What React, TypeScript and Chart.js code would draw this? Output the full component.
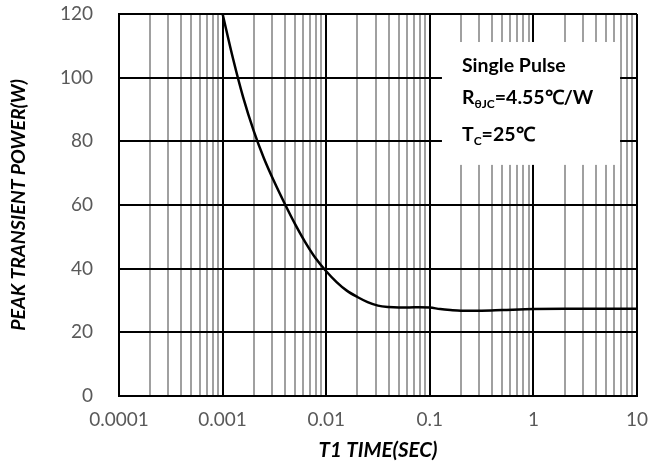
import React, { useEffect, useRef } from "react";
import { Chart, registerables } from "chart.js";

Chart.register(...registerables);

// ---- data ----
const TIME_S = [0.001, 0.00126, 0.00158, 0.002, 0.00251, 0.00316, 0.00398, 0.00501, 0.00631, 0.00794, 0.01, 0.0126, 0.0158, 0.02, 0.0251, 0.0316, 0.0398, 0.0501, 0.0631, 0.0794, 0.1, 0.126, 0.158, 0.2, 0.316, 0.501, 1, 2, 5, 10];
const POWER_W = [120, 106, 93.8, 83.2, 74.6, 67.2, 60.4, 54, 48.2, 43.2, 39.2, 35.8, 33.1, 31.1, 29.5, 28.4, 27.95, 27.8, 27.8, 27.9, 27.8, 27.3, 27, 26.8, 26.8, 27, 27.3, 27.4, 27.4, 27.4];
const X_DECADES = [0.0001, 0.001, 0.01, 0.1, 1, 10];
const X_TICK_LABELS = ["0.0001", "0.001", "0.01", "0.1", "1", "10"];
const X_MINOR_MULTIPLIERS = [2, 3, 4, 5, 6, 7, 8, 9];
const Y_MIN = 0;
const Y_MAX = 120;
const Y_STEP = 20;
const X_TITLE = "T1 TIME(SEC)";
const Y_TITLE = "PEAK TRANSIENT POWER(W)";
const NOTE_LINE1 = "Single Pulse";
const NOTE_R_MAIN = "R";
const NOTE_R_SUB = "θJC";
const NOTE_R_REST = "=4.55℃/W";
const NOTE_T_MAIN = "T";
const NOTE_T_SUB = "C";
const NOTE_T_REST = "=25℃";
// annotation box extent in data coordinates
const NOTE_X = [0.131, 6.86];
const NOTE_Y = [72.6, 111.2];

const FONT = "Lato, 'Liberation Sans', sans-serif";

const isDecade = (v: number) => Math.abs(Math.log10(v) - Math.round(Math.log10(v))) < 1e-9;

export default function App() {
  const ref = useRef<HTMLCanvasElement | null>(null);
  useEffect(() => {
    document.body.style.margin = "0";
    const canvas = ref.current!;
    const xTicks: number[] = [];
    X_DECADES.forEach((d, i) => {
      xTicks.push(d);
      if (i < X_DECADES.length - 1) X_MINOR_MULTIPLIERS.forEach((m) => xTicks.push(m * d));
    });

    const overlay = {
      id: "overlay",
      beforeDatasetsDraw(chart: any) {
        const { ctx, scales } = chart;
        const x0 = scales.x.getPixelForValue(NOTE_X[0]);
        const x1 = scales.x.getPixelForValue(NOTE_X[1]);
        const y0 = scales.y.getPixelForValue(NOTE_Y[1]);
        const y1 = scales.y.getPixelForValue(NOTE_Y[0]);
        ctx.save();
        ctx.fillStyle = "#ffffff";
        ctx.fillRect(x0, y0, x1 - x0, y1 - y0);
        ctx.fillStyle = "#000000";
        ctx.textBaseline = "middle";
        ctx.textAlign = "left";
        const tx = x0 + 20;
        const big = `bold 19.5px ${FONT}`;
        const small = `bold 12px ${FONT}`;
        ctx.font = big;
        ctx.fillText(NOTE_LINE1, tx, y0 + 24);
        const drawSub = (main: string, sub: string, rest: string, cy: number) => {
          let cx = tx;
          ctx.font = big;
          ctx.fillText(main, cx, cy);
          cx += ctx.measureText(main).width;
          ctx.font = small;
          ctx.fillText(sub, cx, cy + 6);
          cx += ctx.measureText(sub).width;
          ctx.font = big;
          ctx.fillText(rest, cx, cy);
        };
        drawSub(NOTE_R_MAIN, NOTE_R_SUB, NOTE_R_REST, y0 + 56);
        drawSub(NOTE_T_MAIN, NOTE_T_SUB, NOTE_T_REST, y0 + 93);
        ctx.restore();
      },
      afterDraw(chart: any) {
        const { ctx, chartArea } = chart;
        ctx.save();
        ctx.fillStyle = "#000000";
        ctx.textAlign = "center";
        ctx.textBaseline = "middle";
        ctx.font = `italic bold 20.5px ${FONT}`;
        ctx.fillText(X_TITLE, (chartArea.left + chartArea.right) / 2, chartArea.bottom + 54);
        ctx.font = `italic bold 19.5px ${FONT}`;
        ctx.translate(19, (chartArea.top + chartArea.bottom) / 2);
        ctx.rotate(-Math.PI / 2);
        ctx.fillText(Y_TITLE, 0, 0);
        ctx.restore();
      },
    };

    const chart = new Chart(canvas, {
      type: "line",
      data: {
        datasets: [
          {
            data: TIME_S.map((t, i) => ({ x: t, y: POWER_W[i] })),
            borderColor: "#000000",
            borderWidth: 2.5,
            pointRadius: 0,
            cubicInterpolationMode: "monotone",
            fill: false,
          },
        ],
      },
      options: {
        animation: false,
        responsive: false,
        maintainAspectRatio: false,
        layout: { padding: { left: 0, top: 14, right: 27, bottom: 0 } },
        plugins: { legend: { display: false }, tooltip: { enabled: false } },
        scales: {
          x: {
            type: "logarithmic",
            min: X_DECADES[0],
            max: X_DECADES[X_DECADES.length - 1],
            afterBuildTicks: (scale: any) => {
              scale.ticks = xTicks.map((v) => ({ value: v, major: isDecade(v) }));
            },
            afterFit: (scale: any) => {
              scale.height = 72;
              scale.paddingLeft = 0;
              scale.paddingRight = 0;
            },
            ticks: {
              autoSkip: false,
              maxRotation: 0,
              minRotation: 0,
              padding: 12,
              color: "#595959",
              font: { family: FONT, size: 19 },
              callback: (v: any) => {
                const idx = X_DECADES.findIndex((d) => Math.abs(d - Number(v)) < d * 1e-6);
                return idx >= 0 ? X_TICK_LABELS[idx] : "";
              },
            },
            grid: {
              drawTicks: false,
              color: (c: any) => (c.tick && isDecade(c.tick.value) ? "#000000" : "#a0a0a0"),
              lineWidth: 2,
            },
            border: { color: "#000000", width: 2 },
          },
          y: {
            type: "linear",
            min: Y_MIN,
            max: Y_MAX,
            afterFit: (scale: any) => {
              scale.width = 119;
              scale.paddingTop = 0;
              scale.paddingBottom = 0;
            },
            ticks: {
              stepSize: Y_STEP,
              padding: 26,
              color: "#595959",
              font: { family: FONT, size: 19 },
            },
            grid: { drawTicks: false, color: "#000000", lineWidth: 2 },
            border: { color: "#000000", width: 2 },
          },
        },
      },
      plugins: [overlay],
    } as any);
    return () => chart.destroy();
  }, []);
  return (
    <div style={{ width: 664, height: 468 }}>
      <canvas ref={ref} width={664} height={468} style={{ display: "block" }} />
    </div>
  );
}
